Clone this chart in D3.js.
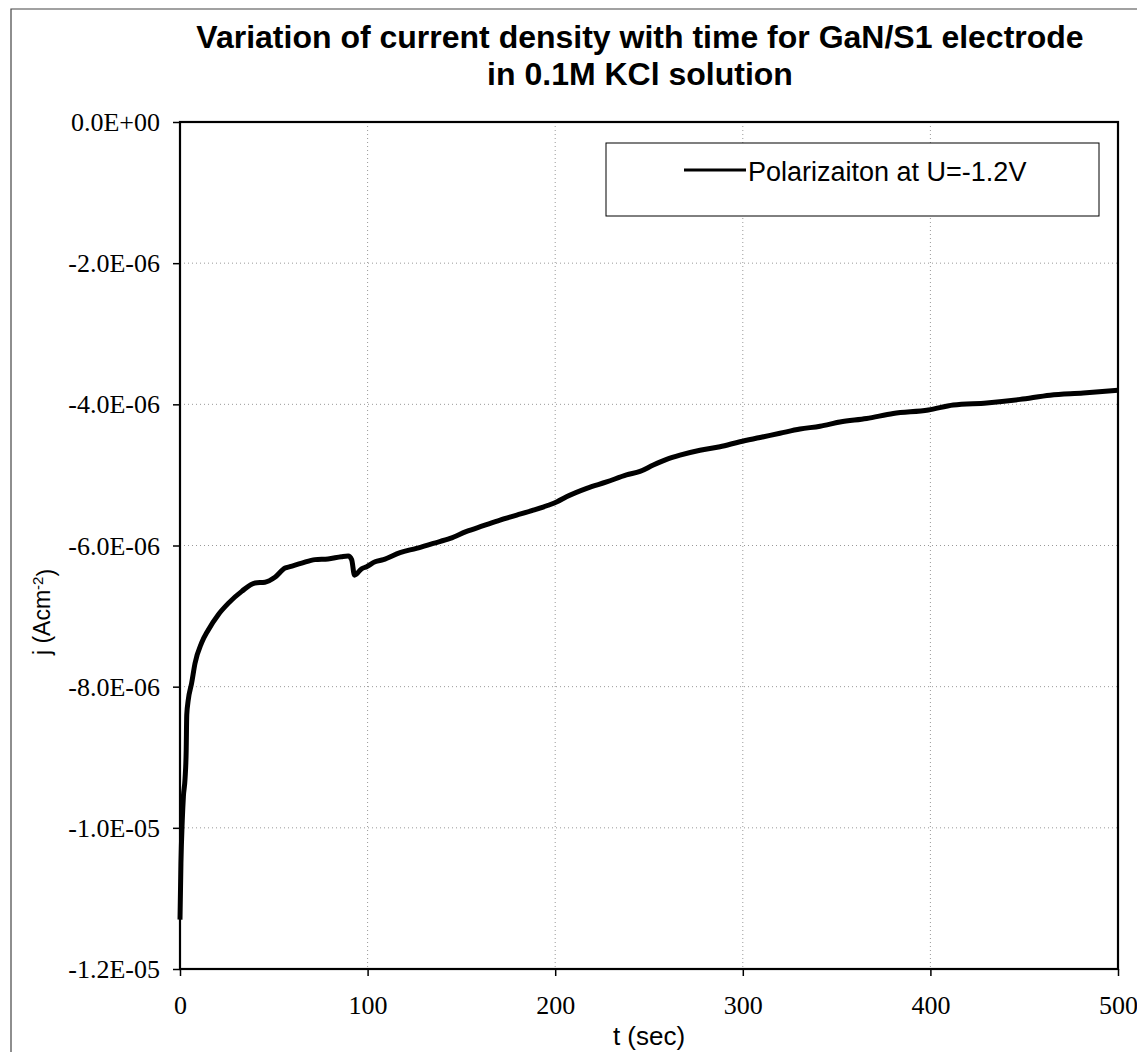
<!DOCTYPE html>
<html>
<head>
<meta charset="utf-8">
<script src="https://cdn.jsdelivr.net/npm/d3@7"></script>
<style>
  html, body { margin: 0; padding: 0; background: #fff; }
  svg { display: block; }
</style>
</head>
<body>
<div id="chart"></div>
<script>
// Chronoamperometry trace: time (s) and current density (units of 1e-6 A/cm^2)
const timeSec = [0, 0.5, 1.2, 1.8, 2.7, 3.3, 3.6, 4.4, 6.2, 8, 11.5, 15, 20.4, 25.7, 32.9, 40, 45.3, 50.6, 56, 58.6, 64.9, 72, 78.9, 86, 89.7, 91.5, 93, 96.8, 99.5, 104, 108.4, 117.3, 126, 135, 144, 152.8, 161.7, 170.6, 179.5, 188.3, 196.3, 201, 206, 216.8, 227.4, 238, 245.2, 252.3, 259.4, 266.5, 277.2, 287.8, 298.5, 309.2, 319.8, 330.5, 341.2, 351.8, 366, 380.2, 398.9, 412.2, 430, 447.8, 463.8, 481.5, 500];
const currentDensity = [-11.3, -10.5, -9.9, -9.56, -9.3, -8.9, -8.4, -8.19, -7.95, -7.67, -7.38, -7.2, -6.98, -6.82, -6.65, -6.53, -6.52, -6.45, -6.32, -6.3, -6.25, -6.2, -6.19, -6.16, -6.15, -6.2, -6.42, -6.33, -6.3, -6.23, -6.2, -6.1, -6.04, -5.97, -5.9, -5.8, -5.72, -5.64, -5.57, -5.5, -5.43, -5.38, -5.31, -5.19, -5.1, -5.0, -4.95, -4.86, -4.78, -4.72, -4.65, -4.6, -4.53, -4.47, -4.41, -4.35, -4.31, -4.25, -4.2, -4.13, -4.08, -4.01, -3.98, -3.93, -3.87, -3.84, -3.8];

const xTicks = [0, 100, 200, 300, 400, 500];
const yTicks = [0, -2, -4, -6, -8, -10, -12];
const yTickLabels = ["0.0E+00", "-2.0E-06", "-4.0E-06", "-6.0E-06", "-8.0E-06", "-1.0E-05", "-1.2E-05"];
const titleLines = ["Variation of current density with time for GaN/S1 electrode", "in 0.1M KCl solution"];
const seriesName = "Polarizaiton at U=-1.2V";

const W = 1137, H = 1052;
const plot = { left: 180, top: 122, right: 1118, bottom: 969 };
const SANS = "'Liberation Sans', Arial, sans-serif";
const SERIF = "'Liberation Serif', 'Times New Roman', serif";

const svg = d3.select("#chart").append("svg")
  .attr("width", W).attr("height", H);

// Outer chart frame
svg.append("path")
  .attr("d", `M11,${H} L11,9 L${W},9`)
  .attr("fill", "none").attr("stroke", "#444").attr("stroke-width", 1.2);

const x = d3.scaleLinear().domain([0, 500]).range([plot.left, plot.right]);
const y = d3.scaleLinear().domain([-12, 0]).range([plot.bottom, plot.top]);

// Gridlines
const grid = svg.append("g");
grid.selectAll("line.gx").data(xTicks.slice(1, -1)).join("line")
  .attr("x1", d => x(d)).attr("x2", d => x(d))
  .attr("y1", plot.top).attr("y2", plot.bottom)
  .attr("stroke", "#999").attr("stroke-width", 1).attr("stroke-dasharray", "1,3");
grid.selectAll("line.gy").data(yTicks.slice(1, -1)).join("line")
  .attr("x1", plot.left).attr("x2", plot.right)
  .attr("y1", d => y(d)).attr("y2", d => y(d))
  .attr("stroke", "#999").attr("stroke-width", 1).attr("stroke-dasharray", "1,3");

// Axes
const xAxis = svg.append("g")
  .attr("transform", `translate(0,${plot.bottom})`)
  .call(d3.axisBottom(x).tickValues(xTicks).tickSize(7).tickPadding(20).tickFormat(d3.format("d")));
const yAxis = svg.append("g")
  .attr("transform", `translate(${plot.left},0)`)
  .call(d3.axisLeft(y).tickValues(yTicks).tickSize(7).tickPadding(13)
    .tickFormat((d, i) => yTickLabels[i]));

[xAxis, yAxis].forEach(g => {
  g.select(".domain").remove();
  g.selectAll(".tick line").attr("stroke", "#000").attr("stroke-width", 1.5);
  g.selectAll(".tick text")
    .attr("fill", "#000")
    .style("font-family", SERIF)
    .style("font-size", "26px");
});
yAxis.selectAll(".tick text").attr("dy", "0.33em");

// Plot frame
svg.append("rect")
  .attr("x", plot.left).attr("y", plot.top)
  .attr("width", plot.right - plot.left).attr("height", plot.bottom - plot.top)
  .attr("fill", "none").attr("stroke", "#000").attr("stroke-width", 2.2);

// Data line
const pts = timeSec.map((t, i) => [t, currentDensity[i]]);
const line = d3.line().x(d => x(d[0])).y(d => y(d[1])).curve(d3.curveMonotoneX);
svg.append("path")
  .datum(pts)
  .attr("d", line)
  .attr("fill", "none").attr("stroke", "#000").attr("stroke-width", 5)
  .attr("stroke-linejoin", "round");

// Title
svg.append("g").selectAll("text").data(titleLines).join("text")
  .attr("x", 640).attr("y", (d, i) => 48 + i * 37)
  .attr("text-anchor", "middle")
  .style("font-family", SANS)
  .style("font-weight", "bold").style("font-size", "32px")
  .text(d => d);

// Axis titles
svg.append("text")
  .attr("x", 649).attr("y", 1045).attr("text-anchor", "middle")
  .style("font-family", SANS).style("font-size", "26px")
  .text("t (sec)");

const yl = svg.append("text")
  .attr("transform", `translate(50,612) rotate(-90)`)
  .attr("text-anchor", "middle")
  .style("font-family", SANS).style("font-size", "23px");
yl.append("tspan").text("j (Acm");
yl.append("tspan").attr("dy", "-0.45em").style("font-size", "15px").text("-2");
yl.append("tspan").attr("dy", "0.45em").text(")");

// Legend
const lg = svg.append("g");
lg.append("rect")
  .attr("x", 606).attr("y", 143).attr("width", 493).attr("height", 73)
  .attr("fill", "#fff").attr("stroke", "#000").attr("stroke-width", 1);
lg.append("line")
  .attr("x1", 684).attr("x2", 746).attr("y1", 170).attr("y2", 170)
  .attr("stroke", "#000").attr("stroke-width", 3);
lg.append("text")
  .attr("x", 748).attr("y", 181)
  .style("font-family", SANS).style("font-size", "27px")
  .text(seriesName);
</script>
</body>
</html>
